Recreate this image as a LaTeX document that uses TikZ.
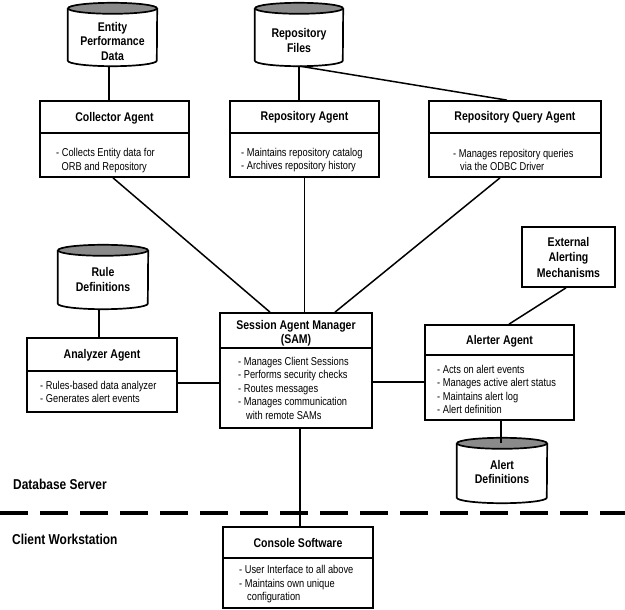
\documentclass[tikz,border=0pt]{standalone}
\usepackage{fontspec}
\setmainfont{Liberation Sans}[FakeStretch=0.815]
\newfontfamily\titlefont{Liberation Sans}[FakeStretch=0.835]
\usetikzlibrary{calc}
\definecolor{cylgray}{RGB}{138,138,138}
\tikzset{
  boxline/.style={line width=1.7pt, draw=black},
  agentbox/.style={boxline, fill=white, rectangle, inner sep=0pt},
  divider/.style={line width=1.3pt},
  titletext/.style={font=\titlefont\fontsize{12.6}{14.5}\selectfont\bfseries, align=center, inner sep=0pt},
  exttext/.style={font=\titlefont\fontsize{12.6}{15.5}\selectfont\bfseries, align=center, inner sep=0pt},
  bodytext/.style={font=\fontsize{11.4}{13.5}\selectfont, align=left, inner sep=0pt, anchor=west},
  sectlabel/.style={font=\titlefont\fontsize{14.3}{16}\selectfont\bfseries, inner sep=0pt, anchor=west},
  conn/.style={line width=1.5pt},
  cylnode/.style={rectangle, inner sep=0pt, draw=none},
  sepline/.style={line width=4pt, dash pattern=on 28pt off 12pt},
}
% name, cx, cy, w, h, divider y, title y, title
\newcommand\mkbox[8]{%
  \node[agentbox, minimum width=#4pt, minimum height=#5pt] (#1) at (#2,-#3) {};
  \draw[divider] (#1.west |- 0,-#6) -- (#1.east |- 0,-#6);
  \node[titletext] (#1-title) at (#2,-#7) {#8};
}
% name, cx, cy, w, h, text shift, text
\newcommand\mkcyl[7]{%
  \node[cylnode, minimum width=#4pt, minimum height=#5pt] (#1) at (#2,-#3) {};
  \filldraw[boxline, fill=white] ([yshift=-5.5pt]#1.north west) -- ([yshift=5.5pt]#1.south west)
     arc[start angle=180, end angle=360, x radius=#4pt/2, y radius=5.5pt]
     -- ([yshift=-5.5pt]#1.north east);
  \filldraw[boxline, fill=cylgray] ([yshift=-5.5pt]#1.north) ellipse[x radius=#4pt/2, y radius=5.5pt];
  \node[titletext] (#1-label) at ($(#1.center)+(0,#6)$) {#7};
}
\begin{document}
\begin{tikzpicture}[x=1pt, y=1pt]
\useasboundingbox[fill=white] (0,0) rectangle (625,-610);

% cylinders
\mkcyl{epd}{112.5}{34.5}{89}{63}{-6.5}{Entity\\Performance\\Data}
\mkcyl{rf}{299}{34.5}{88}{63}{-6}{Repository\\Files}
\mkcyl{rul}{103}{277}{90}{64}{-2.5}{Rule\\Definitions}
\mkcyl{ald}{502}{470.5}{90}{65}{-1.5}{Alert\\Definitions}

% agent boxes
\mkbox{col}{114.5}{139}{149}{76}{133}{118}{Collector Agent}
\node[bodytext] (col-body) at (56,-160.5) {- Collects Entity data for\\\hspace*{5.5pt}ORB and Repository};

\mkbox{rep}{304.5}{139}{149}{76}{133}{117}{Repository Agent}
\node[bodytext] (rep-body) at (241,-160) {- Maintains repository catalog\\- Archives repository history};

\mkbox{rqa}{515}{139}{172}{76}{133}{117}{Repository Query Agent}
\node[bodytext] (rqa-body) at (453,-160) {- Manages repository queries\\\hspace*{7pt}via the ODBC Driver};

\mkbox{sam}{296}{370.5}{152}{115}{348}{333}{Session Agent Manager\\(SAM)}
\node[bodytext] (sam-body) at (238,-388) {- Manages Client Sessions\\- Performs security checks\\- Routes messages\\- Manages communication\\\hspace*{8pt}with remote SAMs};

\mkbox{ana}{102}{375}{150}{74}{371}{355.5}{Analyzer Agent}
\node[bodytext] (ana-body) at (40,-392) {- Rules-based data analyzer\\- Generates alert events};

\mkbox{alr}{499.5}{372.5}{149}{95}{355}{341}{Alerter Agent}
\node[bodytext] (alr-body) at (437,-389.5) {- Acts on alert events\\- Manages active alert status\\- Maintains alert log\\- Alert definition};

\mkbox{con}{298}{567.5}{150}{81}{558}{543}{Console Software}
\node[bodytext] (con-body) at (239,-584.5) {- User Interface to all above\\- Maintains own unique\\\hspace*{8pt}configuration};

\node[agentbox, exttext, minimum width=93pt, minimum height=60pt] (ext) at (568.5,-257) {External\\Alerting\\Mechanisms};

% section labels and separator
\node[sectlabel] (dbs) at (13,-484) {Database Server};
\node[sectlabel] (clw) at (12,-539) {Client Workstation};
\coordinate (sepl) at (0,-513);
\coordinate (sepr) at (625,-513);
\draw[sepline] (sepl) -- (sepr);

% connectors
\draw[conn] ([xshift=-3.5pt]epd.south) -- ([xshift=-3.5pt]epd.south |- col.north);
\draw[conn] (rf.south) -- (rf.south |- rep.north);
\draw[conn] ([xshift=1pt]rf.south) -- ([xshift=-8pt]rqa.north);
\draw[conn] ([xshift=-1.5pt]col.south) -- ([xshift=-26pt]sam.north);
\draw[conn] (rep.south) -- (rep.south |- sam.north);
\draw[conn] ([xshift=-15pt]rqa.south) -- ([xshift=39pt]sam.north);
\draw[conn] ([xshift=-4pt]rul.south) -- ([xshift=-4pt]rul.south |- ana.north);
\draw[conn] ([yshift=-8pt]ana.east) -- ([yshift=-8pt]ana.east -| sam.west);
\draw[conn] ([yshift=-11.5pt]sam.east) -- ([yshift=-11.5pt]sam.east -| alr.west);
\draw[conn] ([xshift=-2.5pt]ext.south) -- ([xshift=9.5pt]alr.north);
\draw[conn] ([xshift=1.5pt]alr.south) -- ($(alr.south |- ald.north)+(1.5,-5)$);
\draw[conn] ([xshift=4pt]sam.south) -- ([xshift=4pt]sam.south |- con.north);
\end{tikzpicture}
\end{document}
